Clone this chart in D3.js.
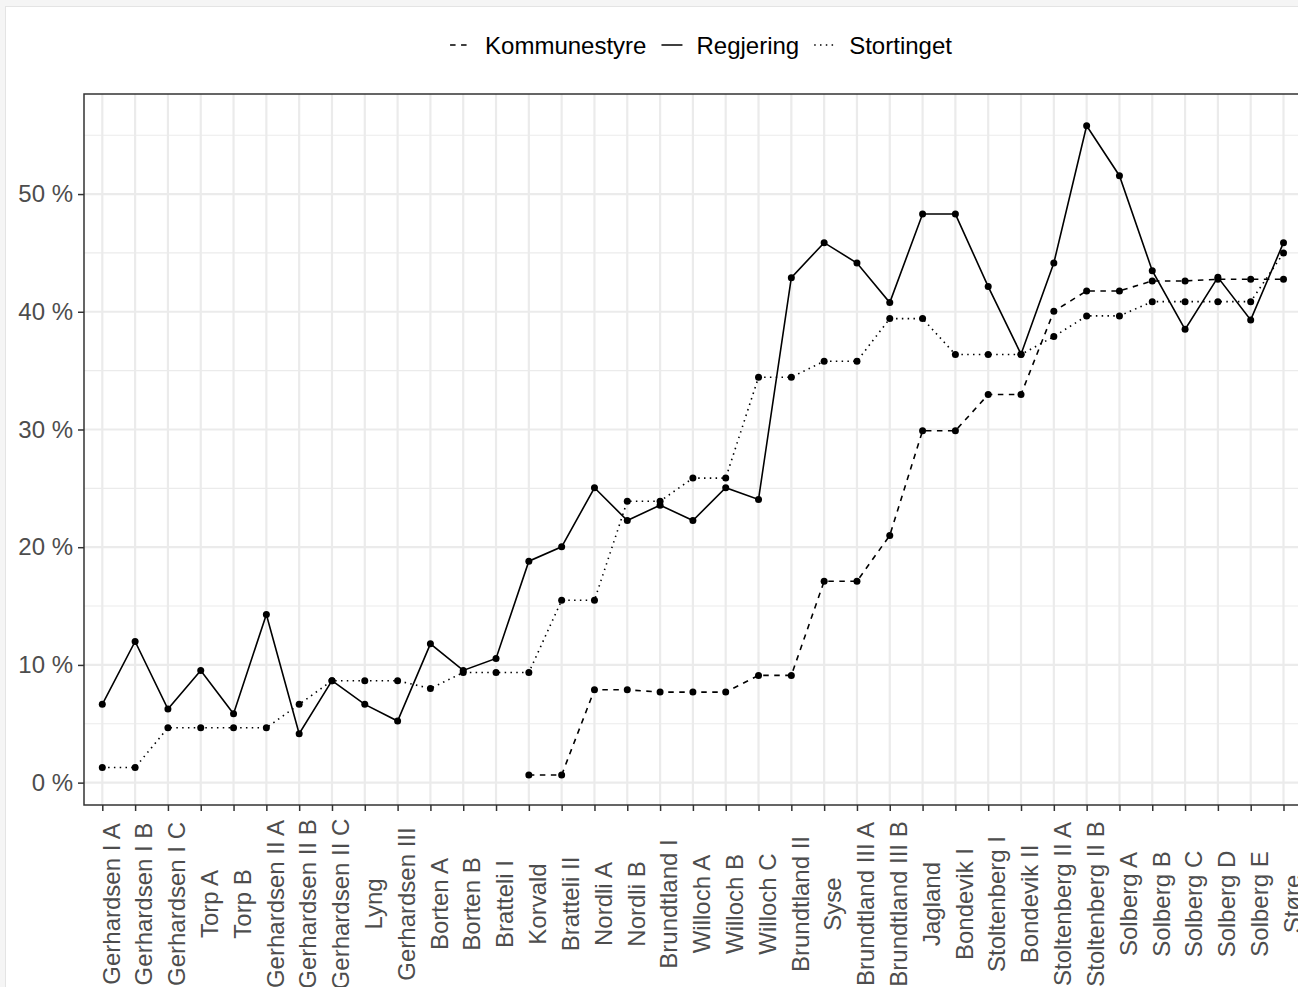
<!DOCTYPE html>
<html>
<head>
<meta charset="utf-8">
<script src="https://cdn.jsdelivr.net/npm/d3@7"></script>
<style>
  html, body { margin: 0; padding: 0; background: #f5f5f5; overflow: hidden; }
  svg { display: block; }
  text { font-family: "Liberation Sans", Arial, Helvetica, sans-serif; }
</style>
</head>
<body>
<svg width="1298" height="987"></svg>
<script>
const regjeringer = [
    'Gerhardsen I A', 'Gerhardsen I B', 'Gerhardsen I C', 'Torp A', 'Torp B',
    'Gerhardsen II A', 'Gerhardsen II B', 'Gerhardsen II C', 'Lyng', 'Gerhardsen III',
    'Borten A', 'Borten B', 'Bratteli I', 'Korvald', 'Bratteli II', 'Nordli A', 'Nordli B',
    'Brundtland I', 'Willoch A', 'Willoch B', 'Willoch C', 'Brundtland II', 'Syse',
    'Brundtland III A', 'Brundtland III B', 'Jagland', 'Bondevik I', 'Stoltenberg I',
    'Bondevik II', 'Stoltenberg II A', 'Stoltenberg II B', 'Solberg A', 'Solberg B',
    'Solberg C', 'Solberg D', 'Solberg E', 'Støre'
];

// andel kvinner, prosent
const kommunestyre = [
    null, null, null, null, null, null, null, null, null, null, null, null, null,
    0.65, 0.65, 7.89, 7.89, 7.69, 7.69, 7.69, 9.11, 9.11, 17.11, 17.11, 21.0,
    29.89, 29.89, 32.97, 32.97, 40.04, 41.77, 41.77, 42.62, 42.62, 42.76, 42.76, 42.76
];
const regjering = [
    6.65, 11.99, 6.25, 9.52, 5.85, 14.29, 4.15, 8.66, 6.65, 5.23, 11.79, 9.53, 10.55,
    18.81, 20.03, 25.05, 22.27, 23.57, 22.27, 25.05, 24.06, 42.9, 45.87, 44.14, 40.78,
    48.3, 48.3, 42.14, 36.4, 44.14, 55.8, 51.56, 43.49, 38.51, 42.93, 39.31, 45.87
];
const stortinget = [
    1.28, 1.28, 4.66, 4.66, 4.66, 4.66, 6.65, 8.66, 8.66, 8.66, 8.0, 9.35, 9.35,
    9.35, 15.49, 15.49, 23.91, 23.91, 25.87, 25.87, 34.44, 34.44, 35.8, 35.8, 39.42,
    39.42, 36.37, 36.37, 36.37, 37.89, 39.65, 39.65, 40.86, 40.86, 40.86, 40.86, 44.99
];

const yTicks = [0, 10, 20, 30, 40, 50];
const yMinor = [5, 15, 25, 35, 45, 55];

const seriesNames = ['Kommunestyre', 'Regjering', 'Stortinget'];
const seriesValues = [kommunestyre, regjering, stortinget];
const dashes = ['5.5,5.5', null, '1.5,4.3'];

const svg = d3.select('svg');

const panel = {left: 84, top: 94, right: 1302, bottom: 805};
const ink = '#333333';
const gridColor = '#ebebeb';
const fontSize = '24px';

// hvitt kort bak plottet
svg.append('rect')
    .attr('x', 5.5)
    .attr('y', 6.5)
    .attr('width', 1400)
    .attr('height', 1100)
    .attr('fill', '#ffffff')
    .attr('stroke', '#e4e4e4');

const xScale = d3.scalePoint()
    .domain(regjeringer)
    .range([102.3, 1283.5]);

const yScale = d3.scaleLinear()
    .domain([-1.9, 58.5])
    .range([panel.bottom, panel.top]);

// rutenett
const grid = svg.append('g').classed('grid', true);

grid.selectAll('.minor')
    .data(yMinor)
    .join('line')
    .classed('minor', true)
    .attr('x1', panel.left)
    .attr('x2', panel.right)
    .attr('y1', d => yScale(d))
    .attr('y2', d => yScale(d))
    .attr('stroke', gridColor)
    .attr('stroke-width', 1.1);

grid.selectAll('.major-y')
    .data(yTicks)
    .join('line')
    .classed('major-y', true)
    .attr('x1', panel.left)
    .attr('x2', panel.right)
    .attr('y1', d => yScale(d))
    .attr('y2', d => yScale(d))
    .attr('stroke', gridColor)
    .attr('stroke-width', 2.2);

grid.selectAll('.major-x')
    .data(regjeringer)
    .join('line')
    .classed('major-x', true)
    .attr('x1', d => xScale(d))
    .attr('x2', d => xScale(d))
    .attr('y1', panel.top)
    .attr('y2', panel.bottom)
    .attr('stroke', gridColor)
    .attr('stroke-width', 2.2);

// linjer
const line = d3.line()
    .defined(d => d.v != null)
    .x(d => xScale(d.name))
    .y(d => yScale(d.v));

const series = seriesNames.map((s, i) => ({
    name: s,
    dash: dashes[i],
    points: regjeringer.map((r, j) => ({name: r, v: seriesValues[i][j]}))
}));

svg.append('g')
    .selectAll('path')
    .data(series)
    .join('path')
    .attr('d', d => line(d.points))
    .attr('fill', 'none')
    .attr('stroke', '#000')
    .attr('stroke-width', 1.6)
    .attr('stroke-dasharray', d => d.dash);

svg.append('g')
    .selectAll('g')
    .data(series)
    .join('g')
    .selectAll('circle')
    .data(d => d.points.filter(p => p.v != null))
    .join('circle')
    .attr('cx', d => xScale(d.name))
    .attr('cy', d => yScale(d.v))
    .attr('r', 3.5)
    .attr('fill', '#000');

// ramme
svg.append('rect')
    .attr('x', panel.left)
    .attr('y', panel.top)
    .attr('width', panel.right - panel.left)
    .attr('height', panel.bottom - panel.top)
    .attr('fill', 'none')
    .attr('stroke', ink)
    .attr('stroke-width', 1.5);

// akser
const yAxis = d3.axisLeft(yScale)
    .tickValues(yTicks)
    .tickFormat(d => d + ' %')
    .tickSize(6)
    .tickPadding(5);

const yAxisG = svg.append('g')
    .classed('y-axis', true)
    .attr('transform', `translate(${panel.left}, 0)`)
    .call(yAxis);

const xAxis = d3.axisBottom(xScale)
    .tickSize(6);

const xAxisG = svg.append('g')
    .classed('x-axis', true)
    .attr('transform', `translate(0, ${panel.bottom})`)
    .call(xAxis);

[yAxisG, xAxisG].forEach(g => {
    g.select('.domain').remove();
    g.selectAll('.tick line').attr('stroke', ink).attr('stroke-width', 1.5);
    g.selectAll('.tick text')
        .attr('fill', '#4d4d4d')
        .style('font-size', fontSize)
        .style('font-family', '"Liberation Sans", Arial, Helvetica, sans-serif');
});

xAxisG.selectAll('.tick text')
    .attr('y', 0)
    .attr('dy', '0.74em')
    .attr('text-anchor', 'middle')
    .attr('transform', 'translate(-1, 99) rotate(-90)');

// legende
const legend = svg.append('g')
    .classed('legend', true)
    .attr('transform', 'translate(0, 45)');

let cursor = 0;
series.forEach(s => {
    const item = legend.append('g');
    item.append('line')
        .attr('x1', 0)
        .attr('x2', 21)
        .attr('stroke', '#000')
        .attr('stroke-width', 1.5)
        .attr('stroke-dasharray', s.dash);
    const t = item.append('text')
        .attr('x', 35)
        .attr('dy', '0.36em')
        .style('font-size', fontSize)
        .attr('fill', '#000')
        .text(s.name);
    item.attr('transform', `translate(${cursor}, 0)`);
    cursor += 35 + t.node().getComputedTextLength() + 15;
});
const legendWidth = cursor - 15;
legend.attr('transform', `translate(${701 - legendWidth / 2}, 45)`);
</script>
</body>
</html>
